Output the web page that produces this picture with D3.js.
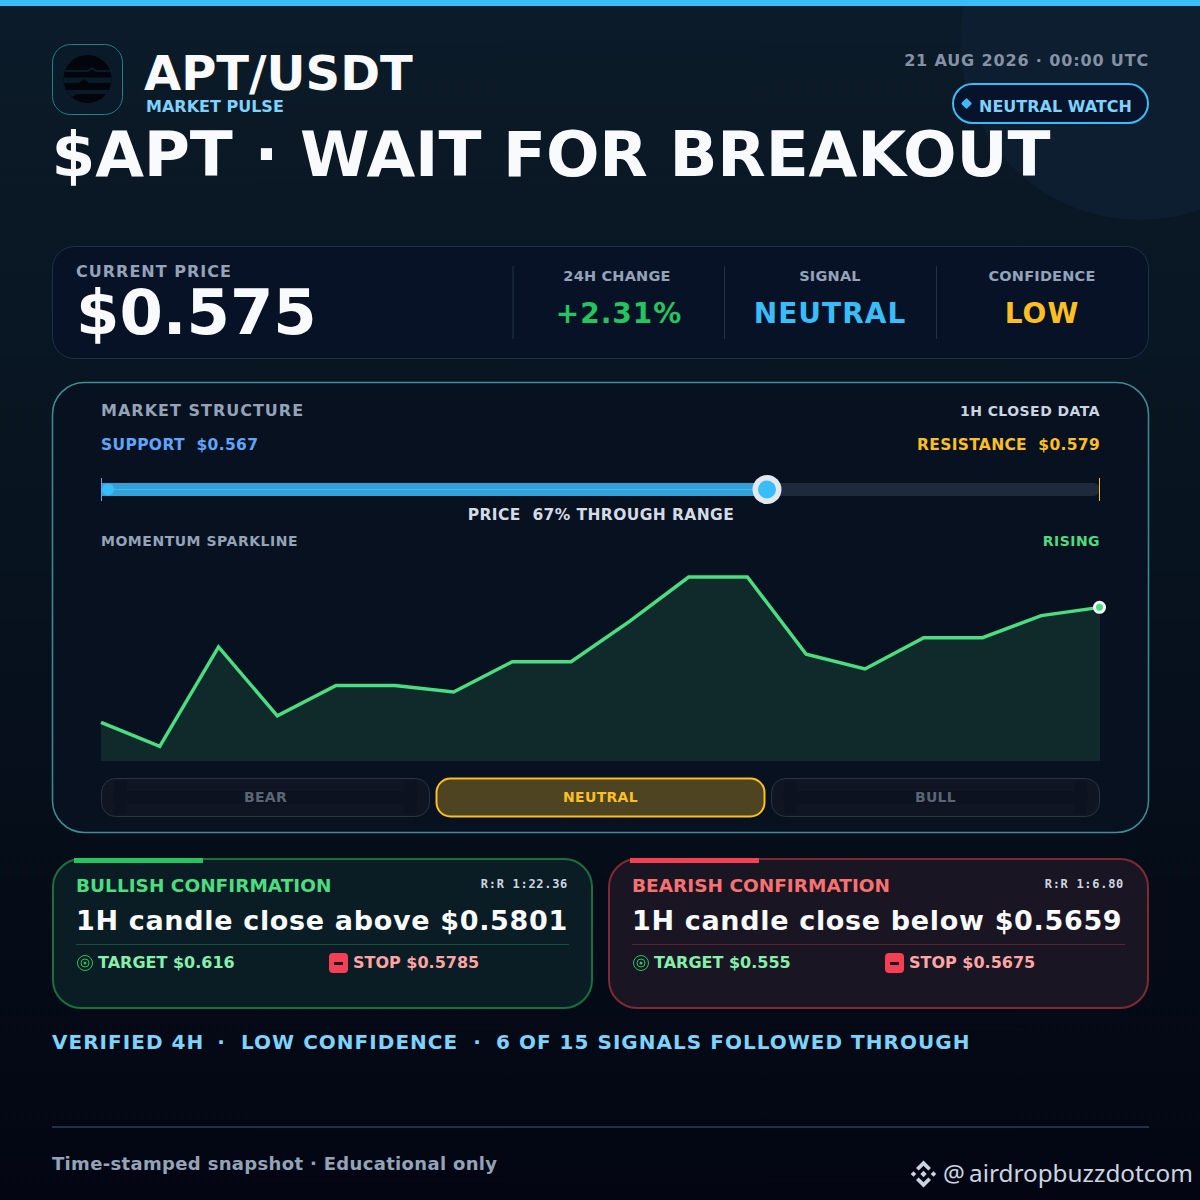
<!DOCTYPE html>
<html>
<head>
<meta charset="utf-8">
<script src="https://cdn.jsdelivr.net/npm/d3@7"></script>
<style>
  html, body { margin: 0; padding: 0; background: #030712; }
  svg { display: block; }
  text { font-family: "DejaVu Sans", sans-serif; font-weight: bold; }
</style>
</head>
<body>
<div id="card"></div>
<script>
// Values
var momentum = [21, 8, 62, 24.5, 41, 41, 37.5, 54, 54, 76, 100, 100, 58, 50, 67, 67, 79, 83.5];
var support = 0.567;
var resistance = 0.579;
var price = 0.5750;
var stats = ["24H CHANGE", "SIGNAL", "CONFIDENCE"];
var statValues = ["+2.31%", "NEUTRAL", "LOW"];
var states = ["BEAR", "NEUTRAL", "BULL"];
var verified = ["VERIFIED 4H", "LOW CONFIDENCE", "6 OF 15 SIGNALS FOLLOWED THROUGH"];

var svgWidth = 1200;
var svgHeight = 1200;

var svg = d3.select("#card")
  .append("svg")
  .attr("width", svgWidth)
  .attr("height", svgHeight);

var defs = svg.append("defs");

var bg = defs.append("linearGradient").attr("id", "bg")
  .attr("x1", 0).attr("y1", 0).attr("x2", 0).attr("y2", 1);
bg.append("stop").attr("offset", "0%").attr("stop-color", "#0c1b29");
bg.append("stop").attr("offset", "45%").attr("stop-color", "#07131f");
bg.append("stop").attr("offset", "100%").attr("stop-color", "#030612");

// helper for all the labels
function label(x, y, str, size, fill, anchor, spacing) {
  return svg.append("text")
    .attr("x", x)
    .attr("y", y)
    .attr("font-size", size)
    .attr("fill", fill)
    .attr("text-anchor", anchor || "start")
    .attr("letter-spacing", spacing || 0)
    .text(str);
}

function box(x, y, w, h, r, fill, stroke, sw) {
  return svg.append("rect")
    .attr("x", x).attr("y", y)
    .attr("width", w).attr("height", h)
    .attr("rx", r).attr("ry", r)
    .attr("fill", fill)
    .attr("stroke", stroke || "none")
    .attr("stroke-width", sw || 1);
}

// background
svg.append("rect").attr("width", svgWidth).attr("height", svgHeight).attr("fill", "url(#bg)");
svg.append("circle").attr("cx", 1140).attr("cy", 40).attr("r", 180).attr("fill", "#0c1e2f");
svg.append("rect").attr("width", svgWidth).attr("height", 6).attr("fill", "#38bdf8");

// logo
box(52.5, 44.5, 70, 70, 18, "#0a1a28", "#1f7f8c", 1);
defs.append("clipPath").attr("id", "logoClip")
  .append("circle").attr("cx", 87.5).attr("cy", 79).attr("r", 24);
var logo = svg.append("g").attr("clip-path", "url(#logoClip)");
logo.append("rect").attr("x", 60).attr("y", 50).attr("width", 56).attr("height", 58).attr("fill", "#02050c");
var logoGaps = [
  "M60 70 H88 L92 67 L96 70 H116 V72 H96 L92 70 L88 72 H60 Z",
  "M60 77.5 H116 V83 H89 L84 79 L79 83 H60 Z",
  "M60 90 H116 V94 H77 L72 97 L69 94 H60 Z"
];
logo.selectAll("path.gap").data(logoGaps).enter().append("path")
  .attr("class", "gap").attr("d", d => d).attr("fill", "#0a1a28");

// header
label(144, 90, "APT/USDT", 48, "#f8fafc");
label(146, 112, "MARKET PULSE", 16, "#7dd3fc");
label(1149, 66, "21 AUG 2026 · 00:00 UTC", 16, "#8592a6", "end", 0.85);
label(51.5, 176, "$APT · WAIT FOR BREAKOUT", 63, "#f8fafc", "start", -0.15);

box(953, 84, 195, 39, 19.5, "#07132a", "#38bdf8", 2);
svg.append("rect").attr("x", 962.5).attr("y", 99.5).attr("width", 8).attr("height", 8).attr("rx", 1.5)
  .attr("fill", "#38bdf8").attr("transform", "rotate(45 966.5 103.5)");
label(979, 112, "NEUTRAL WATCH", 16, "#7dd3fc");

// price panel
box(52.5, 246.5, 1096, 112, 22, "#081226", "#1b3148", 1);
label(76, 277, "CURRENT PRICE", 16, "#94a3b8", "start", 1);
label(76, 334, "$" + price.toFixed(3), 62.4, "#f8fafc");

var statX = [617, 830, 1042];
var statColors = ["#22c55e", "#38bdf8", "#fbbf24"];
var dividers = [513, 724.5, 936.5];
svg.selectAll("line.divider").data(dividers).enter().append("line")
  .attr("class", "divider")
  .attr("x1", d => d).attr("x2", d => d)
  .attr("y1", 266).attr("y2", 339)
  .attr("stroke", "#1e3348");
stats.forEach(function(s, i) {
  label(statX[i], 281, s, 14.5, "#94a3b8", "middle", 0.2);
  label(statX[i] + (i == 0 ? 2 : 0), 323, statValues[i], 28, statColors[i], "middle", 1);
});

// structure panel
box(52.5, 382.5, 1096, 450, 32, "#07111f", "#3d8f96", 1.5);
label(101, 416, "MARKET STRUCTURE", 16, "#94a3b8", "start", 1);
label(1100, 416, "1H CLOSED DATA", 14, "#cbd5e1", "end", 0.45);
label(101, 450, "SUPPORT  $" + support.toFixed(3), 15.5, "#60a5fa", "start", 0.35).attr("xml:space", "preserve");
label(1100, 450, "RESISTANCE  $" + resistance.toFixed(3), 15.5, "#fbbf24", "end", 0.3).attr("xml:space", "preserve");

// range slider
var rangeX = d3.scaleLinear().domain([support, resistance]).range([101, 1100]);
var knobX = rangeX(price);
var trackY = 489.5;

box(101, 483, 999, 13, 6.5, "#1e293b");
box(101, 483, knobX - 101, 13, 0, "#33a0d8");
svg.append("line").attr("x1", 101).attr("x2", knobX).attr("y1", trackY).attr("y2", trackY)
  .attr("stroke", "#38bdf8").attr("stroke-width", 1);
svg.append("line").attr("x1", 101.5).attr("x2", 101.5).attr("y1", 478).attr("y2", 501).attr("stroke", "#60a5fa");
svg.append("line").attr("x1", 1099.5).attr("x2", 1099.5).attr("y1", 478).attr("y2", 501).attr("stroke", "#fbbf24");
svg.append("circle").attr("cx", rangeX(support) + 7).attr("cy", trackY).attr("r", 6).attr("fill", "#38bdf8");
svg.append("circle").attr("cx", knobX).attr("cy", trackY).attr("r", 14.5).attr("fill", "#e2e8f0");
svg.append("circle").attr("cx", knobX).attr("cy", trackY).attr("r", 9).attr("fill", "#38bdf8");

var pct = Math.round((price - support) / (resistance - support) * 100);
label(601, 520, "PRICE  " + pct + "% THROUGH RANGE", 15.5, "#d5dbe6", "middle", 0.4).attr("xml:space", "preserve");

// sparkline
label(101, 546, "MOMENTUM SPARKLINE", 14, "#94a3b8", "start", 0.52);
label(1100, 546, "RISING", 14, "#4ade80", "end", 0.45);

var sparkX = d3.scalePoint().domain(d3.range(momentum.length)).range([101, 1100]);
var sparkY = d3.scaleLinear().domain([0, 100]).range([761, 577]);

var sparkArea = d3.area().x((d, i) => sparkX(i)).y0(sparkY(0)).y1(d => sparkY(d));
var sparkLine = d3.line().x((d, i) => sparkX(i)).y(d => sparkY(d));

svg.append("path").datum(momentum).attr("d", sparkArea).attr("fill", "#10292a");
svg.append("path").datum(momentum).attr("d", sparkLine)
  .attr("fill", "none").attr("stroke", "#4ade80").attr("stroke-width", 3.5);

var lastI = momentum.length - 1;
svg.append("circle").attr("cx", sparkX(lastI) - 0.5).attr("cy", sparkY(momentum[lastI])).attr("r", 6.5).attr("fill", "#f8fafc");
svg.append("circle").attr("cx", sparkX(lastI) - 0.5).attr("cy", sparkY(momentum[lastI])).attr("r", 3.5).attr("fill", "#4ade80");

// bear / neutral / bull
var stateX = [101.5, 436.5, 771.5];
states.forEach(function(s, i) {
  var on = s == "NEUTRAL";
  box(stateX[i], 778.5, 328, 38, 14, on ? "#4e4421" : "#0f1522", on ? "#fbbf24" : "#2b3443", on ? 2 : 1);
  if (!on) {
    // darker band through the middle of the idle buttons
    box(stateX[i] + 12, 791, 304, 13, 0, "#0c1220");
    box(stateX[i] + 13, 781, 12, 33, 0, "#0c1220");
    box(stateX[i] + 303, 781, 12, 33, 0, "#0c1220");
  }
  label(stateX[i] + 164, 802, s, 14, on ? "#fbbf24" : "#5c6575", "middle", 0.3);
});

// confirmation cards
function confirmCard(x, title, rr, body, target, stop, fill, stroke, bar, titleColor, lineColor) {
  box(x + 1, 859, 539, 149, 28, fill, stroke, 2);
  box(x + 22, 858, 129, 5, 0, bar);
  label(x + 24, 892, title, 18.5, titleColor);
  label(x + 516, 888, rr, 12, "#cbd5e1", "end", 0.7).style("font-family", "'DejaVu Sans Mono', monospace");
  label(x + 24, 930, body, 27, "#f8fafc", "start", 0.67);
  svg.append("line").attr("x1", x + 24).attr("x2", x + 517).attr("y1", 944.5).attr("y2", 944.5).attr("stroke", lineColor);

  var tx = x + 33, ty = 963;
  [7.5, 4].forEach(function(r) {
    svg.append("circle").attr("cx", tx).attr("cy", ty).attr("r", r)
      .attr("fill", "none").attr("stroke", "#22c55e").attr("stroke-width", 1);
  });
  svg.append("circle").attr("cx", tx).attr("cy", ty).attr("r", 1.5).attr("fill", "#22c55e");
  label(x + 46, 968, "TARGET $" + target, 16, "#86efac");

  box(x + 277, 953, 19, 20, 4, "#f43f55");
  box(x + 282, 962, 9, 3, 0, "#1a1522");
  label(x + 301, 968, "STOP $" + stop, 16, "#fca5a5");
}

confirmCard(52, "BULLISH CONFIRMATION", "R:R 1:22.36", "1H candle close above $0.5801", "0.616", "0.5785",
  "#0a1c24", "#1c6e3f", "#22c55e", "#4ade80", "#14503a");
confirmCard(608, "BEARISH CONFIRMATION", "R:R 1:6.80", "1H candle close below $0.5659", "0.555", "0.5675",
  "#1a1522", "#7f2a33", "#f43f55", "#f87171", "#5c2430");

// follow through line, pieces placed one by one because the gaps are tighter than two spaces
var verifiedX = [52, 241, 496];
var dotX = [221, 477];
verified.forEach(function(s, i) {
  label(verifiedX[i], 1048.5, s, 20, "#7dd3fc", "start", 1.02);
});
dotX.forEach(function(x) {
  label(x, 1048.5, "·", 20, "#7dd3fc", "middle");
});

// footer
svg.append("line").attr("x1", 52).attr("x2", 1149).attr("y1", 1127).attr("y2", 1127).attr("stroke", "#1e3348").attr("stroke-width", 2);
label(52, 1170, "Time-stamped snapshot · Educational only", 18, "#94a3b8", "start", 0.33);

// binance mark
var markX = 923.5, markY = 1174;
var markParts = [
  "M0 -13.5 L7.5 -6 L4.8 -3.4 L0 -8.2 L-4.8 -3.4 L-7.5 -6 Z",
  "M0 13.5 L7.5 6 L4.8 3.4 L0 8.2 L-4.8 3.4 L-7.5 6 Z",
  "M0 -3.2 L3.2 0 L0 3.2 L-3.2 0 Z",
  "M-10 -2.8 L-7.2 0 L-10 2.8 L-12.8 0 Z",
  "M10 -2.8 L12.8 0 L10 2.8 L7.2 0 Z"
];
svg.append("g").attr("transform", "translate(" + markX + "," + markY + ")")
  .selectAll("path").data(markParts).enter().append("path")
  .attr("d", d => d).attr("fill", "#cbd5e1");
label(943, 1182, "@", 24.3, "#cbd5e1").style("font-family", "'Noto Sans', sans-serif").style("font-weight", "normal");
label(969, 1182, "airdropbuzzdotcom", 24.3, "#cbd5e1").style("font-family", "'Noto Sans', sans-serif").style("font-weight", "normal");
</script>
</body>
</html>
